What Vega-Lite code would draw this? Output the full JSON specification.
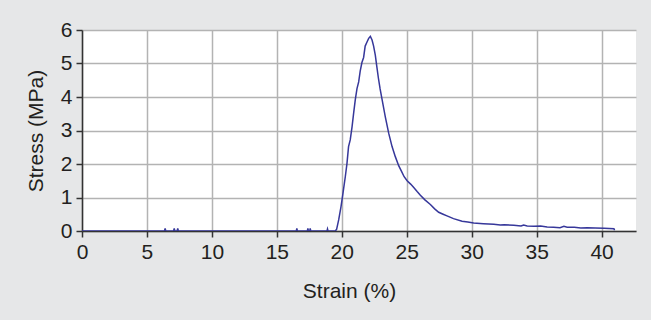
{
  "$schema": "https://vega.github.io/schema/vega-lite/v6.json",
  "autosize": "none",
  "width": 554,
  "height": 201,
  "padding": {"left": 82, "top": 30, "right": 15, "bottom": 89},
  "background": "#e6e7e8",
  "config": {
    "view": {"stroke": null, "fill": "#ffffff"},
    "font": "Liberation Sans",
    "axis": {
      "labelFont": "Liberation Sans",
      "titleFont": "Liberation Sans",
      "labelFontSize": 21,
      "titleFontSize": 21,
      "labelColor": "#231f20",
      "titleColor": "#231f20",
      "titleFontWeight": "normal",
      "labelFlush": false,
      "labelOverlap": false,
      "domainColor": "#333333",
      "domainWidth": 1.5,
      "tickColor": "#333333",
      "tickWidth": 1.5,
      "tickSize": 6,
      "gridColor": "#b3b3b3",
      "gridWidth": 1.5
    }
  },
  "data": {
    "values": [
      {"strain": 0, "stress": 0},
      {"strain": 6.35, "stress": 0},
      {"strain": 6.4, "stress": 0.08},
      {"strain": 6.45, "stress": 0},
      {"strain": 7.05, "stress": 0},
      {"strain": 7.1, "stress": 0.08},
      {"strain": 7.15, "stress": 0},
      {"strain": 7.32, "stress": 0},
      {"strain": 7.37, "stress": 0.08},
      {"strain": 7.42, "stress": 0},
      {"strain": 16.5, "stress": 0},
      {"strain": 16.54, "stress": 0.08},
      {"strain": 16.58, "stress": 0},
      {"strain": 17.35, "stress": 0},
      {"strain": 17.39, "stress": 0.08},
      {"strain": 17.43, "stress": 0},
      {"strain": 17.53, "stress": 0},
      {"strain": 17.57, "stress": 0.08},
      {"strain": 17.61, "stress": 0},
      {"strain": 18.86, "stress": 0},
      {"strain": 18.9, "stress": 0.06},
      {"strain": 18.94, "stress": 0},
      {"strain": 19.5, "stress": 0},
      {"strain": 19.6, "stress": 0.05},
      {"strain": 19.76, "stress": 0.33},
      {"strain": 19.94, "stress": 0.73},
      {"strain": 20.09, "stress": 1.12},
      {"strain": 20.27, "stress": 1.62},
      {"strain": 20.4, "stress": 2.02},
      {"strain": 20.52, "stress": 2.52},
      {"strain": 20.65, "stress": 2.72},
      {"strain": 20.79, "stress": 3.11},
      {"strain": 20.91, "stress": 3.51},
      {"strain": 21.04, "stress": 3.92},
      {"strain": 21.17, "stress": 4.25},
      {"strain": 21.3, "stress": 4.45},
      {"strain": 21.42, "stress": 4.78},
      {"strain": 21.55, "stress": 5.03},
      {"strain": 21.68, "stress": 5.18},
      {"strain": 21.8, "stress": 5.52},
      {"strain": 21.95, "stress": 5.65},
      {"strain": 22.07, "stress": 5.75},
      {"strain": 22.2, "stress": 5.81},
      {"strain": 22.33, "stress": 5.7},
      {"strain": 22.45, "stress": 5.52},
      {"strain": 22.58, "stress": 5.25},
      {"strain": 22.7, "stress": 4.9},
      {"strain": 22.82, "stress": 4.56},
      {"strain": 22.95, "stress": 4.24},
      {"strain": 23.1, "stress": 3.93},
      {"strain": 23.35, "stress": 3.41},
      {"strain": 23.61, "stress": 2.92},
      {"strain": 23.87, "stress": 2.52},
      {"strain": 24.12, "stress": 2.22},
      {"strain": 24.38, "stress": 1.95},
      {"strain": 24.6, "stress": 1.78},
      {"strain": 24.8, "stress": 1.62},
      {"strain": 25.03, "stress": 1.5},
      {"strain": 25.3, "stress": 1.4},
      {"strain": 25.54, "stress": 1.3},
      {"strain": 25.8, "stress": 1.18},
      {"strain": 26.05, "stress": 1.07},
      {"strain": 26.4, "stress": 0.93},
      {"strain": 26.82, "stress": 0.79},
      {"strain": 27.15, "stress": 0.66},
      {"strain": 27.46, "stress": 0.56},
      {"strain": 27.8, "stress": 0.5},
      {"strain": 28.1, "stress": 0.45},
      {"strain": 28.6, "stress": 0.37},
      {"strain": 29.26, "stress": 0.29},
      {"strain": 29.7, "stress": 0.27},
      {"strain": 30.15, "stress": 0.24},
      {"strain": 30.9, "stress": 0.22},
      {"strain": 31.7, "stress": 0.2},
      {"strain": 32.2, "stress": 0.18},
      {"strain": 32.5, "stress": 0.19},
      {"strain": 33.24, "stress": 0.17},
      {"strain": 33.8, "stress": 0.15},
      {"strain": 34.0, "stress": 0.18},
      {"strain": 34.27, "stress": 0.15},
      {"strain": 34.8, "stress": 0.14},
      {"strain": 35.3, "stress": 0.15},
      {"strain": 35.81, "stress": 0.12},
      {"strain": 36.3, "stress": 0.11},
      {"strain": 36.8, "stress": 0.1},
      {"strain": 37.1, "stress": 0.14},
      {"strain": 37.35, "stress": 0.11},
      {"strain": 37.9, "stress": 0.11},
      {"strain": 38.4, "stress": 0.09},
      {"strain": 38.9, "stress": 0.1},
      {"strain": 39.5, "stress": 0.09},
      {"strain": 40.2, "stress": 0.08},
      {"strain": 40.95, "stress": 0.07},
      {"strain": 41.0, "stress": 0.02}
    ]
  },
  "mark": {"type": "line", "color": "#36379a", "strokeWidth": 1.5, "clip": true},
  "encoding": {
    "x": {
      "field": "strain",
      "type": "quantitative",
      "sort": null,
      "scale": {"domain": [0, 42.65], "nice": false, "zero": false},
      "axis": {
        "title": "Strain (%)",
        "values": [0, 5, 10, 15, 20, 25, 30, 35, 40],
        "labelPadding": 4,
        "titlePadding": 18,
        "titleX": 267
      }
    },
    "y": {
      "field": "stress",
      "type": "quantitative",
      "scale": {"domain": [0, 6], "nice": false},
      "axis": {
        "title": "Stress (MPa)",
        "values": [0, 1, 2, 3, 4, 5, 6],
        "labelPadding": 4,
        "titlePadding": 14
      }
    }
  }
}
